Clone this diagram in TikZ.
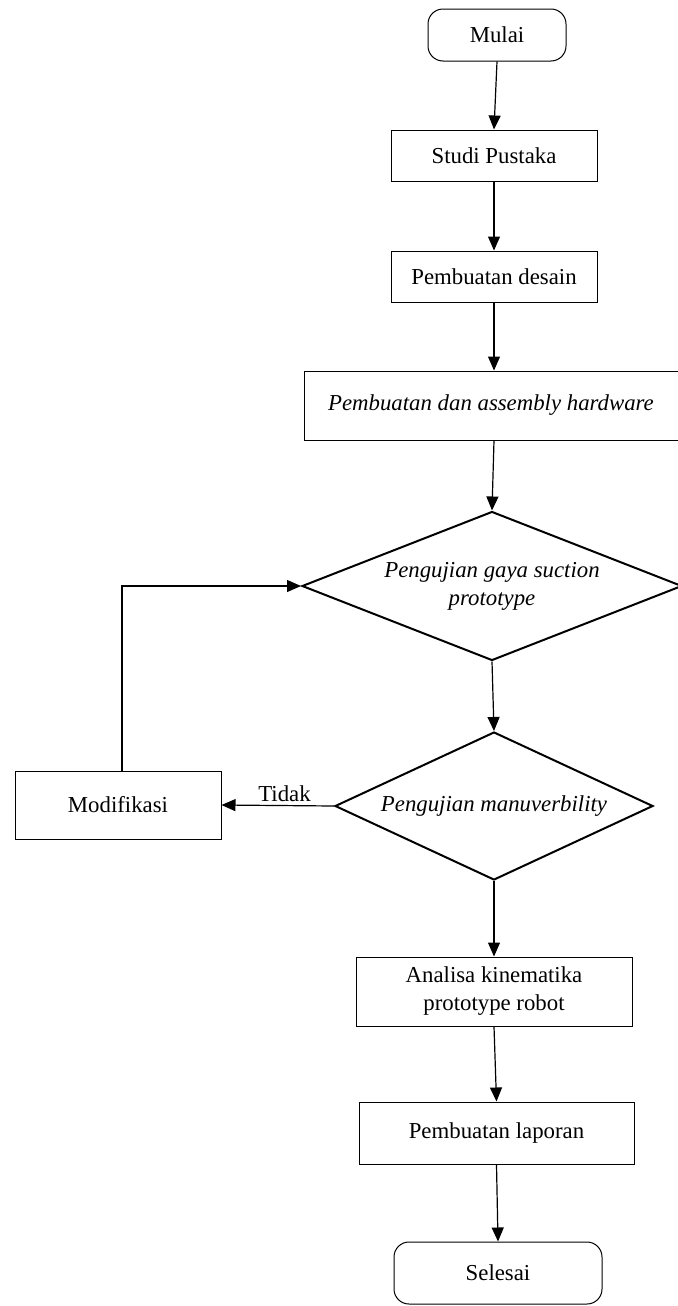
\documentclass[tikz,border=0pt]{standalone}
\usepackage{fontspec}
\setmainfont{Liberation Serif}
\usetikzlibrary{shapes.geometric,arrows.meta}
\begin{document}
\begin{tikzpicture}[x=0.5pt,y=-0.5pt,
  every node/.style={font=\fontsize{11.4}{14}\selectfont, align=center, inner sep=0pt},
  procbox/.style={draw, line width=0.5pt, rectangle},
  termbox/.style={draw, line width=0.5pt, rectangle, rounded corners=7.5pt},
  decbox/.style={draw, line width=1pt, diamond},
  flow/.style={draw, line width=0.6pt, -{Triangle[length=7pt,width=6pt]}}
]
\useasboundingbox (0,0) rectangle (678,1306);

\node[termbox, minimum width=69pt, minimum height=26pt] (mulai) at (497,35) {Mulai};
\node[procbox, minimum width=103pt, minimum height=25.5pt] (studi) at (494,155.5) {Studi Pustaka};
\node[procbox, minimum width=103pt, minimum height=25.5pt] (desain) at (494,276.5) {Pembuatan desain};
\node[procbox, minimum width=187pt, minimum height=34.5pt] (hw) at (491,405.5) {\itshape Pembuatan dan assembly hardware};
\node[decbox, aspect=2.55, minimum width=190pt, minimum height=74.5pt] (d1) at (492,586) {\itshape Pengujian gaya suction\\\itshape prototype};
\node[decbox, aspect=2.15, minimum width=159pt, minimum height=74pt] (d2) at (494,806) {\itshape Pengujian manuverbility};
\node[procbox, minimum width=103pt, minimum height=34pt] (mod) at (118,805) {Modifikasi};
\node[procbox, minimum width=138pt, minimum height=34.5pt] (analisa) at (494,991.5) {Analisa kinematika\\prototype robot};
\node[procbox, minimum width=137.5pt, minimum height=31pt] (laporan) at (496.5,1133) {Pembuatan laporan};
\node[termbox, minimum width=104pt, minimum height=31pt] (selesai) at (498,1273) {Selesai};

\coordinate (loopbot) at (122,771);
\draw[flow] (mulai.south) -- (studi.north);
\draw[flow] (studi.south) -- (desain.north);
\draw[flow] (desain.south) -- (desain.south |- hw.north);
\draw[flow] (desain.south |- hw.south) -- (d1.north);
\draw[flow] (d1.south) -- (d2.north);
\draw[flow] (d2.west) -- node[pos=0.44, above, inner sep=1.5pt] (tidak) {Tidak} (mod.east);
\draw[flow] (loopbot) -- (loopbot |- d1.west) -- (d1.west);
\draw[flow] (d2.south) -- (analisa.north);
\draw[flow] (analisa.south) -- (laporan.north);
\draw[flow] (laporan.south) -- (selesai.north);
\end{tikzpicture}
\end{document}
